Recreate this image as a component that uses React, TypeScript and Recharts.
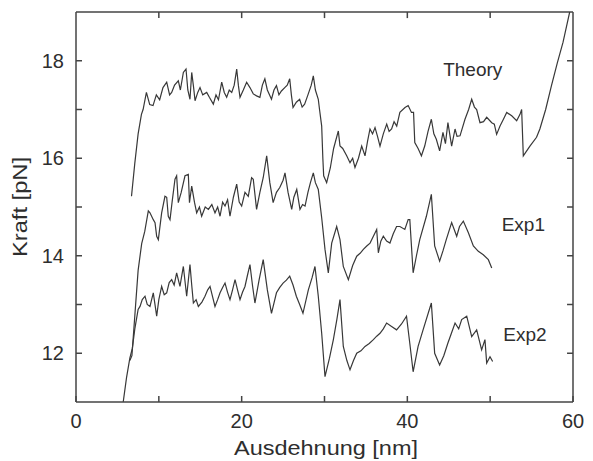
import React from 'react';
import { LineChart, Line, XAxis, YAxis, ReferenceDot, ReferenceLine } from 'recharts';

// Theory curve
const theoryX = [6.7, 7.1, 7.5, 7.9, 8.1, 8.5, 8.9, 9.3, 9.7, 10.1, 10.5, 10.95, 11.3, 11.55, 11.9, 12.35, 12.6, 12.96, 13.28, 13.5, 13.76, 13.97, 14.2, 14.37, 14.7, 14.97, 15.3, 15.78, 16.1, 16.58, 16.9, 17.2, 17.59, 17.9, 18.19, 18.5, 18.8, 19.1, 19.4, 19.6, 19.8, 20.2, 20.6, 21.0, 21.4, 21.8, 22.2, 22.5, 22.8, 23.1, 23.6, 23.9, 24.2, 24.5, 24.8, 25.2, 25.5, 25.8, 26.0, 26.2, 26.6, 27.0, 27.3, 27.6, 28.0, 28.4, 28.65, 28.9, 29.25, 29.4, 29.66, 29.8, 29.9, 30.26, 30.7, 31.1, 31.67, 31.87, 32.2, 32.68, 33.08, 33.4, 33.68, 34.1, 34.49, 34.89, 35.2, 35.49, 35.8, 36.1, 36.4, 36.7, 37.1, 37.51, 37.8, 38.1, 38.4, 38.72, 39.1, 39.72, 40.1, 40.5, 40.75, 40.9, 41.3, 41.7, 42.1, 42.5, 42.9, 43.2, 43.5, 43.9, 44.3, 44.6, 44.9, 45.35, 45.76, 46.0, 46.36, 46.96, 47.4, 47.77, 48.1, 48.37, 48.77, 49.2, 49.58, 50.19, 50.5, 50.78, 51.19, 51.6, 52.0, 52.6, 53.2, 53.6, 53.8, 54.0, 54.8, 55.6, 56.0, 56.7, 57.4, 58.1, 58.8, 59.6];
const theoryY = [15.22, 15.9, 16.5, 16.9, 17.0, 17.35, 17.1, 17.08, 17.3, 17.2, 17.45, 17.56, 17.3, 17.35, 17.5, 17.59, 17.4, 17.76, 17.83, 17.4, 17.21, 17.76, 17.45, 17.18, 17.35, 17.45, 17.3, 17.35, 17.25, 17.11, 17.3, 17.2, 17.56, 17.35, 17.25, 17.4, 17.35, 17.5, 17.83, 17.5, 17.25, 17.4, 17.56, 17.45, 17.32, 17.28, 17.25, 17.5, 17.63, 17.4, 17.21, 17.4, 17.49, 17.3, 17.38, 17.45, 17.5, 17.63, 17.3, 17.04, 17.15, 17.21, 17.05, 17.11, 17.3, 17.5, 17.69, 17.4, 17.21, 17.0, 16.66, 16.0, 15.64, 15.5, 15.8, 16.2, 16.56, 16.25, 16.2, 16.05, 15.91, 16.0, 15.81, 16.0, 16.25, 16.05, 16.35, 16.6, 16.5, 16.63, 16.45, 16.25, 16.5, 16.7, 16.55, 16.6, 16.75, 16.66, 16.94, 17.04, 17.08, 16.94, 16.94, 16.32, 16.2, 16.05, 16.25, 16.55, 16.8, 16.5, 16.39, 16.15, 16.53, 16.3, 16.73, 16.25, 16.6, 16.45, 16.46, 16.8, 17.0, 17.21, 17.05, 17.0, 16.73, 16.75, 16.84, 16.73, 16.7, 16.49, 16.66, 16.8, 16.94, 16.87, 16.77, 16.9, 17.0, 16.05, 16.25, 16.43, 16.6, 17.0, 17.49, 17.95, 18.38, 19.0];

// Exp1 curve
const exp1X = [6.5, 6.75, 6.9, 7.2, 7.5, 7.93, 8.3, 8.73, 8.93, 9.33, 9.54, 9.74, 9.94, 10.34, 10.74, 10.95, 11.14, 11.35, 11.6, 11.95, 12.15, 12.35, 12.7, 13.16, 13.56, 13.7, 13.97, 14.3, 14.57, 14.9, 15.17, 15.6, 15.98, 16.4, 16.78, 17.1, 17.39, 17.7, 17.99, 18.3, 18.59, 19.0, 19.4, 19.7, 20.0, 20.4, 20.8, 21.2, 21.4, 21.8, 22.2, 22.6, 23.02, 23.4, 23.8, 24.2, 24.6, 25.0, 25.23, 25.6, 26.04, 26.3, 26.65, 27.04, 27.35, 27.65, 28.0, 28.3, 28.65, 28.9, 29.25, 29.66, 30.06, 30.46, 30.87, 31.47, 31.87, 32.27, 32.88, 33.4, 33.89, 34.3, 34.69, 35.1, 35.5, 35.9, 36.3, 36.5, 36.8, 37.1, 37.5, 37.9, 38.3, 38.7, 39.1, 39.7, 40.1, 40.3, 40.7, 41.1, 41.5, 42.3, 42.9, 43.3, 43.9, 44.3, 44.7, 45.35, 45.96, 46.3, 46.76, 47.37, 47.97, 48.57, 49.17, 49.78, 50.19];
const exp1Y = [11.85, 11.95, 12.3, 13.0, 13.7, 14.25, 14.5, 14.92, 14.88, 14.74, 14.68, 14.4, 14.33, 14.88, 15.22, 15.2, 14.81, 14.74, 15.1, 15.57, 15.64, 15.09, 15.3, 15.64, 15.67, 15.09, 15.43, 15.1, 14.88, 15.0, 14.81, 15.0, 14.95, 15.05, 14.88, 15.0, 14.81, 15.1, 15.02, 15.15, 14.81, 15.2, 15.47, 15.1, 15.02, 15.3, 15.22, 15.6, 15.57, 14.95, 15.3, 15.6, 16.05, 15.5, 15.09, 15.3, 15.4, 15.55, 15.7, 15.3, 14.95, 15.2, 15.36, 14.95, 15.05, 15.02, 15.3, 15.5, 15.7, 15.5, 15.36, 14.78, 14.13, 13.65, 14.26, 14.6, 14.33, 13.78, 13.51, 13.8, 13.99, 14.05, 14.13, 14.2, 14.26, 14.4, 14.54, 14.06, 14.3, 14.4, 14.3, 14.26, 14.45, 14.6, 14.6, 14.54, 14.74, 14.74, 13.65, 14.0, 14.33, 14.81, 15.26, 14.2, 13.89, 14.1, 14.33, 14.68, 14.4, 14.6, 14.71, 14.47, 14.2, 14.09, 14.02, 13.92, 13.75];

// Exp2 curve
const exp2X = [5.7, 6.1, 6.5, 6.8, 7.1, 7.5, 7.73, 8.0, 8.33, 8.6, 8.93, 9.33, 9.74, 10.0, 10.34, 10.65, 10.95, 11.25, 11.55, 11.85, 12.15, 12.55, 12.96, 13.36, 13.76, 13.97, 14.17, 14.5, 14.77, 15.2, 15.57, 15.9, 16.18, 16.5, 16.78, 17.1, 17.39, 17.7, 17.99, 18.3, 18.59, 18.9, 19.2, 19.5, 19.8, 20.1, 20.4, 20.7, 21.0, 21.3, 21.6, 22.1, 22.6, 23.1, 23.6, 24.2, 24.6, 25.0, 25.4, 25.8, 26.2, 26.6, 27.0, 27.4, 28.05, 28.5, 28.85, 29.25, 29.66, 30.06, 30.6, 31.07, 31.5, 31.87, 32.27, 32.7, 33.08, 33.5, 33.89, 34.4, 34.89, 35.4, 35.9, 36.3, 36.7, 37.1, 37.5, 38.1, 38.7, 39.3, 39.9, 40.3, 40.7, 41.3, 41.9, 42.9, 43.3, 43.9, 44.4, 44.9, 45.3, 45.76, 46.2, 46.56, 47.17, 47.77, 48.37, 48.97, 49.37, 49.58, 49.98, 50.3];
const exp2Y = [11.0, 11.5, 11.9, 12.1, 12.5, 12.9, 12.96, 13.1, 13.17, 13.0, 12.96, 13.24, 12.76, 13.1, 13.37, 13.2, 13.24, 13.45, 13.51, 13.4, 13.65, 13.37, 13.78, 13.17, 13.82, 13.4, 13.03, 13.1, 12.96, 13.05, 13.17, 13.3, 13.37, 13.15, 12.96, 13.1, 13.24, 13.35, 13.44, 13.25, 13.1, 13.3, 13.51, 13.3, 13.1, 13.25, 13.37, 13.6, 13.82, 13.4, 13.03, 13.5, 13.92, 13.3, 12.82, 13.24, 13.35, 13.44, 13.5, 13.58, 13.4, 13.17, 13.0, 12.82, 13.3, 13.55, 13.78, 13.17, 12.41, 11.52, 11.9, 12.28, 12.7, 13.1, 12.14, 11.85, 11.66, 11.85, 12.0, 12.05, 12.14, 12.2, 12.28, 12.35, 12.41, 12.5, 12.62, 12.55, 12.48, 12.6, 12.76, 12.2, 11.62, 12.14, 12.48, 13.03, 12.0, 11.76, 11.95, 12.21, 12.4, 12.62, 12.5, 12.69, 12.76, 12.34, 12.48, 12.07, 12.28, 11.8, 11.93, 11.83];

const X_MIN = 0;
const X_MAX = 60;
const Y_MIN = 11;
const Y_MAX = 19;
const xTicks = [0, 10, 20, 30, 40, 50, 60];
const xLabeled = [0, 20, 40, 60];
const yTicks = [12, 13, 14, 15, 16, 17, 18];
const yLabeled = [12, 14, 16, 18];

const seriesNames = ['Theory', 'Exp1', 'Exp2'];
const labelX = [47.9, 54.0, 54.2];
const labelY = [17.83, 14.64, 12.38];

const toPoints = (xs: number[], ys: number[]) => xs.map((x, i) => ({ x, y: ys[i] }));
const theoryData = toPoints(theoryX, theoryY);
const exp1Data = toPoints(exp1X, exp1Y);
const exp2Data = toPoints(exp2X, exp2Y);

const FONT = '"Liberation Sans", Arial, Helvetica, sans-serif';
const AXIS = '#444444';
const TEXT = '#2e2e2e';
const LINE = '#383838';
// mirrored tick length on the top/right frame, in axis units (about 6 px)
const TICK_DY = 0.125;
const TICK_DX = 0.72;

const XTitle = () => (
  <text x={326} y={455} textAnchor="middle" fontSize={20} fill={TEXT} fontFamily={FONT}
    textLength={184} lengthAdjust="spacingAndGlyphs">Ausdehnung [nm]</text>
);
const YTitle = () => (
  <text x={27} y={207} transform="rotate(-90, 27, 207)" textAnchor="middle" fontSize={20} fill={TEXT}
    fontFamily={FONT} textLength={100} lengthAdjust="spacingAndGlyphs">Kraft [pN]</text>
);

export default function App() {
  return (
    <div style={{ position: 'absolute', left: 0, top: 0, width: 593, height: 461, background: '#fff' }}>
      <LineChart width={593} height={461} margin={{ top: 12, right: 20, bottom: 29, left: 0 }}
        style={{ fontFamily: FONT }}>
        <XAxis dataKey="x" type="number" domain={[X_MIN, X_MAX]} ticks={xTicks} allowDataOverflow
          tickSize={-6} tickMargin={18} height={30} interval={0}
          stroke={AXIS} strokeWidth={1.5}
          tick={{ fontSize: 20, fill: TEXT }}
          tickFormatter={(v: number) => (xLabeled.includes(v) ? String(v) : '')}
          label={<XTitle />} />
        <YAxis dataKey="y" type="number" domain={[Y_MIN, Y_MAX]} ticks={yTicks} allowDataOverflow
          tickSize={-6} tickMargin={18} width={76} interval={0}
          stroke={AXIS} strokeWidth={1.5}
          tick={{ fontSize: 20, fill: TEXT }}
          tickFormatter={(v: number) => (yLabeled.includes(v) ? String(v) : '')}
          label={<YTitle />} />
        <ReferenceLine y={Y_MAX} stroke={AXIS} strokeWidth={1.5} ifOverflow="visible" />
        <ReferenceLine x={X_MAX} stroke={AXIS} strokeWidth={1.5} ifOverflow="visible" />
        {xTicks.slice(1, -1).map((t) => (
          <ReferenceLine key={`tx${t}`} segment={[{ x: t, y: Y_MAX }, { x: t, y: Y_MAX - TICK_DY }]}
            stroke={AXIS} strokeWidth={1.5} ifOverflow="visible" />
        ))}
        {yTicks.map((t) => (
          <ReferenceLine key={`ty${t}`} segment={[{ x: X_MAX, y: t }, { x: X_MAX - TICK_DX, y: t }]}
            stroke={AXIS} strokeWidth={1.5} ifOverflow="visible" />
        ))}
        <Line data={theoryData} dataKey="y" type="linear" stroke={LINE} strokeWidth={1.2} dot={false} isAnimationActive={false} />
        <Line data={exp1Data} dataKey="y" type="linear" stroke={LINE} strokeWidth={1.2} dot={false} isAnimationActive={false} />
        <Line data={exp2Data} dataKey="y" type="linear" stroke={LINE} strokeWidth={1.2} dot={false} isAnimationActive={false} />
        {seriesNames.map((name, i) => (
          <ReferenceDot key={name} x={labelX[i]} y={labelY[i]} r={0} fill="none" stroke="none"
            label={{ value: name, position: 'center', fontSize: 19, fill: TEXT, fontFamily: FONT }} />
        ))}
      </LineChart>
    </div>
  );
}
